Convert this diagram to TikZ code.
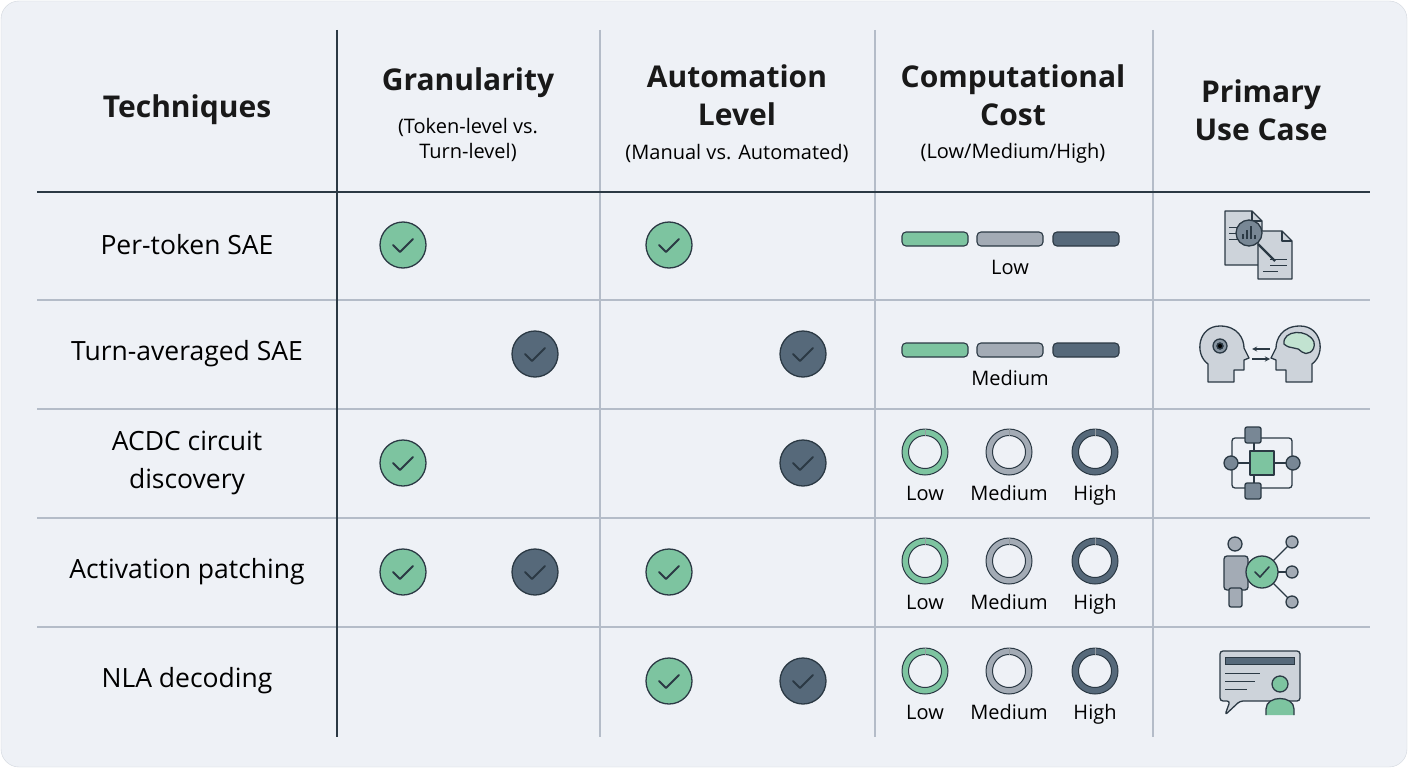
\documentclass[tikz,border=0pt]{standalone}
\usepackage{fontspec}
\setmainfont{Open Sans}
\begin{document}
\definecolor{bg}{HTML}{EEF1F6}
\definecolor{gr}{HTML}{7DC4A0}
\definecolor{gy}{HTML}{A3ABB5}
\definecolor{dk}{HTML}{56697A}
\definecolor{ol}{HTML}{2B3944}
\definecolor{ln}{HTML}{B4BCC8}
\definecolor{ic}{HTML}{CDD3DA}
\definecolor{lg}{HTML}{C2E3D1}
\begin{tikzpicture}[x=1pt,y=-1pt,
  hd/.style={font=\fontsize{30}{38}\selectfont\bfseries\color{black!90},align=center},
  sub/.style={font=\fontsize{20}{25}\selectfont,align=center},
  rowt/.style={font=\fontsize{26.5}{38}\selectfont,align=center},
  lab/.style={font=\fontsize{20}{22}\selectfont,text height=14pt,text depth=4pt},
  grid/.style={ln,line width=1.2pt},
  main/.style={ol,line width=1.6pt},
  ic/.style={draw=ol,line width=1.3pt,line join=round},
  chk/.style={circle,minimum size=46pt,draw=ol,line width=1.3pt},
  bar/.style={draw=ol,line width=1.1pt,rounded corners=4pt},
]
\useasboundingbox (0,0) rectangle (1408,768);
\fill[white] (0,0) rectangle (1408,768);
\filldraw[fill=bg,draw=ln!60,rounded corners=18pt] (1,1) rectangle (1407,767);
% grid
\foreach \x in {600,875,1153} \draw[grid] (\x,30) -- (\x,737);
\foreach \y in {300,409,518,627} \draw[grid] (37,\y) -- (1370,\y);
\draw[main] (337,30) -- (337,737);
\draw[main] (37,192) -- (1370,192);
% header
\node[hd] (h0) at (187,110) {Techniques};
\node[hd] (h1) at (468,83) {Granularity};
\node[sub] (s1) at (468,140) {(Token-level vs.\\Turn-level)};
\node[hd] (h2) at (737,95) {Automation\\Level};
\node[sub] (s2) at (737,153) {(Manual vs. Automated)};
\node[hd] (h3) at (1013,95) {Computational\\Cost};
\node[sub] (s3) at (1013,153) {(Low/Medium/High)};
\node[hd] (h4) at (1261,110) {Primary\\Use Case};
% row titles
\node[rowt] (r1) at (187,245) {Per-token SAE};
\node[rowt] (r2) at (187,354) {Turn-averaged SAE};
\node[rowt] (r3) at (187,463) {ACDC circuit\\discovery};
\node[rowt] (r4) at (187,572) {Activation patching};
\node[rowt] (r5) at (187,681) {NLA decoding};
% checks
\foreach \n/\x/\y/\c in {a/403/245/gr, b/669/245/gr, c/535/354/dk, d/803/354/dk, e/403/463/gr, f/803/463/dk, g/403/572/gr, h/535/572/dk, i/669/572/gr, j/669/681/gr, k/803/681/dk}{
  \node[chk,fill=\c] (ck\n) at (\x,\y) {};
  \draw[ol,line width=2pt,line cap=round,line join=round] (\x-10,\y) -- (\x-3,\y+7) -- (\x+10,\y-6);
}
% bars
\foreach \y/\t in {239/Low,350/Medium}{
  \draw[bar,fill=gr] (902,\y-7) rectangle (968,\y+7);
  \draw[bar,fill=gy] (977,\y-7) rectangle (1043,\y+7);
  \draw[bar,fill=dk] (1053,\y-7) rectangle (1119,\y+7);
  \node[lab] (bl\y) at (1010,\y+30) {\t};
}
% rings
\foreach \y in {452,561,671}{
  \foreach \x/\c in {925/gr,1009/gy,1095/dk}{
    \filldraw[fill=\c,draw=ol,line width=1pt,even odd rule] (\x,\y) circle (23) (\x,\y) circle (16.5);
    \draw[ol!50,line width=0.8pt] (\x,\y-23) -- (\x,\y-16.5);
  }
  \node[lab] at (925,\y+43) {Low};
  \node[lab] at (1009,\y+43) {Medium};
  \node[lab] at (1095,\y+43) {High};
}
% icon 1: documents + magnifier
\begin{scope}[shift={(1260,245)}]
  \draw[ic,fill=ic] (-35,-34) -- (-8,-34) -- (2,-24) -- (2,20) -- (-35,20) -- cycle;
  \draw[ic] (-8,-34) -- (-8,-24) -- (2,-24);
  \draw[ic,fill=ic] (-2,-14) -- (22,-14) -- (32,-4) -- (32,34) -- (-2,34) -- cycle;
  \draw[ic] (22,-14) -- (22,-4) -- (32,-4);
  \foreach \yy in {-18,-12,-6} \draw[ol,line width=1pt] (-31,\yy) -- (-18,\yy);
  \foreach \yy in {14,20} \draw[ol,line width=1pt] (10,\yy) -- (27,\yy);
  \draw[ol,line width=1pt] (3,26) -- (18,26);
  \draw[ol,line width=2.2pt] (-2,-1) -- (15,16);
  \draw[ic,fill=dk!80] (-11,-12) circle (13);
  \foreach \xx/\hh in {-17/5,-13/9,-9/13,-5/4} \draw[ol,line width=1.5pt] (\xx,-6) -- (\xx,-6-\hh);
\end{scope}
% icon 2: heads
\begin{scope}[shift={(1260,354)}]
  \draw[ic,fill=ic] (-52,28) -- (-52,10) .. controls (-66,0) and (-62,-28) .. (-40,-28) .. controls (-22,-28) and (-16,-15) .. (-16,-6) -- (-11,4) -- (-16,6) -- (-16,16) -- (-26,16) -- (-26,28) -- cycle;
  \draw[ic,fill=dk!70] (-40,-8) circle (7);
  \fill[ic] (-40,-8) circle (3);
  \draw[ol,line width=1pt] (-40,-8) circle (3);
  \draw[ic,fill=ic] (52,28) -- (52,10) .. controls (66,0) and (62,-28) .. (40,-28) .. controls (22,-28) and (16,-15) .. (16,-6) -- (11,4) -- (16,6) -- (16,16) -- (26,16) -- (26,28) -- cycle;
  \draw[ic,fill=lg] (24,-10) .. controls (22,-24) and (48,-26) .. (54,-12) .. controls (56,-2) and (46,2) .. (42,-2) .. controls (38,-8) and (30,-4) .. (24,-10) -- cycle;
  \draw[ol,line width=1.3pt,->,>=stealth] (10,-5) -- (-8,-5);
  \draw[ol,line width=1.3pt,->,>=stealth] (-8,5) -- (10,5);
\end{scope}
% icon 3: circuit
\begin{scope}[shift={(1262,463)}]
  \draw[ic,rounded corners=3pt] (-30,-25) rectangle (30,25);
  \draw[ic] (-8,-25) -- (-8,25);
  \draw[ic,fill=dk!80,rounded corners=2pt] (-17,-36) rectangle (-1,-20);
  \draw[ic,fill=dk!80,rounded corners=2pt] (-17,20) rectangle (-1,36);
  \draw[ic,fill=gr] (-12,-12) rectangle (12,12);
  \draw[ic] (-30,0) -- (-12,0) (12,0) -- (30,0);
  \draw[ic,fill=dk!80] (-31,0) circle (7);
  \draw[ic,fill=dk!80] (31,0) circle (7);
\end{scope}
% icon 4: person + check + nodes
\begin{scope}[shift={(1262,572)}]
  \draw[ic,fill=gy] (-27,-28) circle (7);
  \draw[ic,fill=gy,rounded corners=3pt] (-38,-16) rectangle (-14,18);
  \draw[ic,fill=gy,rounded corners=2pt] (-33,16) rectangle (-20,35);
  \foreach \yy in {-30,0,30} {\draw[ic] (0,0) -- (30,\yy); \draw[ic,fill=gy] (30,\yy) circle (6);}
  \draw[ic,fill=gr] (0,0) circle (16);
  \draw[ol,line width=1.6pt,line cap=round] (-7,0) -- (-2,5) -- (7,-5);
\end{scope}
% icon 5: chat bubble + person
\begin{scope}[shift={(1260,681)}]
  \draw[ic,fill=ic,rounded corners=3pt] (-40,-30) -- (40,-30) -- (40,20) -- (-20,20) -- (-35,34) -- (-30,20) -- (-40,20) -- cycle;
  \fill[dk] (-35,-24) rectangle (34,-17);
  \draw[ol,line width=0.8pt] (-35,-24) rectangle (34,-17);
  \foreach \yy/\ww in {-8/35,0/30,8/22} \draw[ol,line width=1pt] (-35,\yy) -- (-35+\ww,\yy);
  \draw[ic,fill=gr] (20,3) circle (8);
  \draw[ic,fill=gr] (6,34) -- (6,28) .. controls (6,14) and (34,14) .. (34,28) -- (34,34);
\end{scope}
\end{tikzpicture}
\end{document}
